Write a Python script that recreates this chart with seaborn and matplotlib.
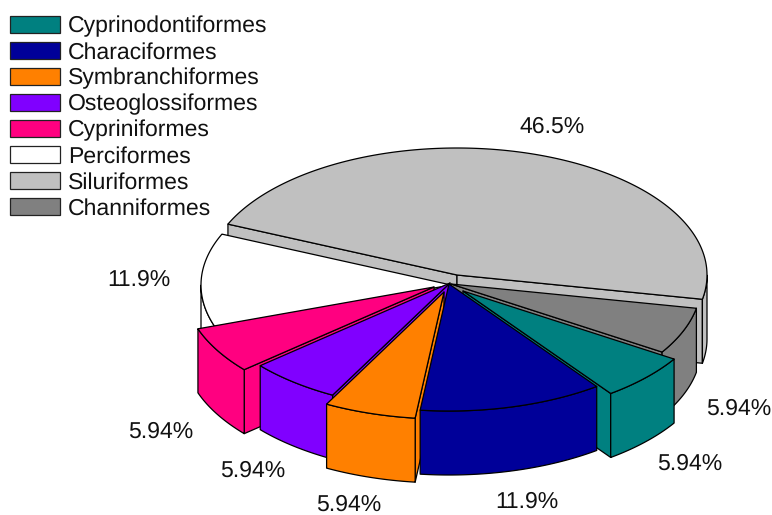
import numpy as np
import seaborn as sns
import matplotlib.pyplot as plt
from matplotlib.patches import Patch, Polygon

# Dati, in senso orario
ordini = ['Cyprinodontiformes', 'Characiformes', 'Symbranchiformes', 'Osteoglossiformes',
          'Cypriniformes', 'Perciformes', 'Siluriformes', 'Channiformes']
quote = [5.94, 11.9, 5.94, 5.94, 5.94, 11.9, 46.5, 5.94]
colori = ['#008080', '#000099', '#FF8000', '#8000FF', '#FF0080', '#FFFFFF', '#C0C0C0', '#808080']

# Geometria della torta, in pixel
centro = (452, 285)
rx, ry = 250, 127
spessore = 64
inizio = -32.4
# spostamento di ogni fetta rispetto al centro
esplosione = [(11, 6), (-3, -1), (-8, 7), (-2, -2), (-18, 2), (-1, 0), (5, -10), (-1, -1)]
pos_etichette = [(690, 464), (527, 502), (349, 505), (253, 471),
                 (161, 432), (139, 280), (552, 127), (739, 409)]
# le fette dietro vanno disegnate prima
ordine_disegno = [6, 5, 7, 4, 3, 0, 2, 1]

FONT = 16.4
LW = 0.9

sns.set_theme(style='white')
plt.rcParams['font.family'] = ['Liberation Sans', 'DejaVu Sans']
plt.rcParams['text.hinting'] = 'no_hinting'
plt.rcParams['text.hinting_factor'] = 1
palette = sns.color_palette(colori)


def punto(c, ang):
    a = np.radians(ang)
    return np.array([c[0] + rx * np.cos(a), c[1] - ry * np.sin(a)])


def faccia(ax, pts, col, z):
    ax.add_patch(Polygon(pts, closed=True, facecolor=col, edgecolor='black',
                         linewidth=LW, joinstyle='round', zorder=z))


def taglio(ax, c, ang, col, z):
    esterno = punto(c, ang)
    giu = np.array([0, spessore])
    faccia(ax, [c, esterno, esterno + giu, np.array(c) + giu], col, z)


def fetta(ax, c, a0, a1, col, z):
    angoli = np.linspace(a0, a1, 200)
    # pareti dei tagli visibili
    if np.cos(np.radians(a0)) < 0:
        taglio(ax, c, a0, col, z)
    if np.cos(np.radians(a1)) > 0:
        taglio(ax, c, a1, col, z + 0.1)
    # parete esterna, solo la parte rivolta verso chi guarda
    davanti = angoli[np.sin(np.radians(angoli)) <= 0]
    if len(davanti) > 1:
        arco = np.array([punto(c, a) for a in davanti])
        faccia(ax, np.vstack([arco, (arco + [0, spessore])[::-1]]), col, z + 0.2)
    # faccia superiore
    arco = np.array([punto(c, a) for a in angoli])
    faccia(ax, np.vstack([[c], arco]), col, z + 0.3)


fig = plt.figure(figsize=(7.72, 5.15), dpi=100)
ax = fig.add_axes([0, 0, 1, 1])
ax.set_xlim(0, 772)
ax.set_ylim(515, 0)
ax.axis('off')

gradi = 360 * np.array(quote) / sum(quote)
limiti = inizio - np.concatenate([[0], np.cumsum(gradi)])

for z, i in enumerate(ordine_disegno):
    c = (centro[0] + esplosione[i][0], centro[1] + esplosione[i][1])
    fetta(ax, c, limiti[i], limiti[i + 1], palette[i], z + 2)

for q, (x, y) in zip(quote, pos_etichette):
    ax.text(x, y, f'{q:.3g}%', ha='center', va='center', fontsize=FONT, color='#111111', zorder=20)

maniglie = [Patch(facecolor=palette[i], edgecolor='#222222', linewidth=LW, label=ordini[i])
            for i in range(len(ordini))]
ax.legend(handles=maniglie, loc='upper left', bbox_to_anchor=(10 / 772, 1 - 16 / 515),
          frameon=False, fontsize=FONT, borderpad=0, borderaxespad=0,
          handlelength=2.2, handleheight=0.75, handletextpad=0.36, labelspacing=0.2,
          labelcolor='#111111')

fig.savefig('out.png', dpi=100)
